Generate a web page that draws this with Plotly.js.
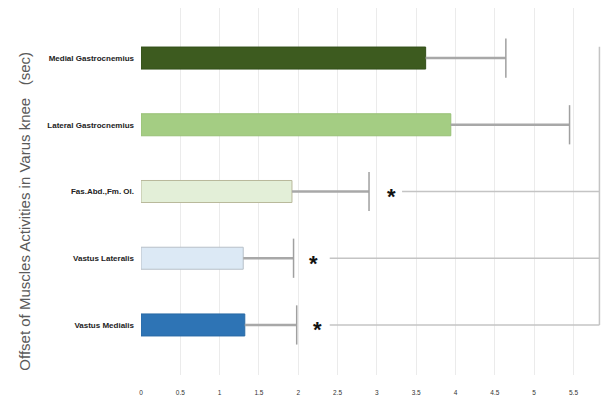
<!DOCTYPE html>
<html>
<head>
<meta charset="utf-8">
<script src="https://cdn.plot.ly/plotly-3.0.1.min.js"></script>
<style>html,body{margin:0;padding:0;background:#fff;}#chart{width:611px;height:401px;}</style>
</head>
<body>
<div id="chart"></div>
<script>
// Data (top to bottom)
const muscles = ['Medial Gastrocnemius', 'Lateral Gastrocnemius', 'Fas.Abd.,Fm. Ol.', 'Vastus Lateralis', 'Vastus Medialis'];
const offsetMean = [3.62, 3.94, 1.92, 1.30, 1.32];
const offsetSD = [1.02, 1.51, 0.98, 0.64, 0.66];
const significant = [false, false, true, true, true];
const starX = [null, null, 3.19, 2.19, 2.24];
const sigLineStart = [null, null, 3.32, 2.40, 2.40];
const bracketX = 5.83;
const xTickVals = [0, 0.5, 1, 1.5, 2, 2.5, 3, 3.5, 4, 4.5, 5, 5.5];
const xTickText = ['0', '0.5', '1', '1.5', '2', '2.5', '3', '3.5', '4', '4.5', '5', '5.5'];
const barColors = ['#3d5b1f', '#a4cd83', '#e3efd8', '#dce9f5', '#2e74b5'];
const barLines = ['#34501a', '#98c076', '#b9b99b', '#b8c0c8', '#2a6aa5'];

const errX = [], errY = [];
offsetMean.forEach((v, i) => { errX.push(v, v + offsetSD[i], null); errY.push(muscles[i], muscles[i], null); });
const capX = offsetMean.map((v, i) => v + offsetSD[i]);

const sigX = [], sigY = [];
significant.forEach((s, i) => { if (s) { sigX.push(sigLineStart[i], bracketX, null); sigY.push(muscles[i], muscles[i], null); } });

const traces = [
  {
    type: 'bar', orientation: 'h', y: muscles, x: offsetMean,
    marker: { color: barColors, line: { color: barLines, width: 1 } },
    hoverinfo: 'x+y'
  },
  {
    type: 'scatter', mode: 'lines', x: errX, y: errY,
    line: { color: '#a8a8a8', width: 2.5 }, hoverinfo: 'skip'
  },
  {
    type: 'scatter', mode: 'markers', x: capX, y: muscles,
    marker: { symbol: 'line-ns-open', size: 28, color: '#a0a0a0', line: { color: '#a0a0a0', width: 1.5 } }, hoverinfo: 'skip'
  },
  {
    type: 'scatter', mode: 'lines', x: sigX, y: sigY,
    line: { color: '#c4c4c4', width: 1.5 }, hoverinfo: 'skip'
  }
];

const annotations = [];
significant.forEach((s, i) => {
  if (s) annotations.push({ x: starX[i], y: muscles[i], xref: 'x', yref: 'y', text: '<b>*</b>', showarrow: false,
    font: { family: 'Liberation Sans, Arial', size: 22, color: '#111' }, yshift: -5 });
});
annotations.push({
  xref: 'paper', yref: 'paper', x: -0.275, y: 0.445, text: 'Offset of Muscles Activities in Varus knee&nbsp;&nbsp;&nbsp;(sec)',
  textangle: -90, showarrow: false, font: { family: 'Liberation Sans, Arial', size: 15, color: '#5a5a5a' }
});

const layout = {
  width: 611, height: 401,
  margin: { l: 141, r: 10, t: 8, b: 26 },
  paper_bgcolor: '#fff', plot_bgcolor: '#fff',
  showlegend: false,
  bargap: 0.67,
  xaxis: {
    range: [0, 5.85], tickvals: xTickVals, ticktext: xTickText,
    showgrid: true, gridcolor: '#ebebeb', gridwidth: 1, zeroline: false, showline: false,
    ticks: '', ticklabelstandoff: 12,
    tickfont: { family: 'Liberation Sans, Arial', size: 6.5, color: '#333' }
  },
  yaxis: {
    type: 'category', range: [4.75, -0.75],
    showgrid: false, zeroline: false, showline: false, ticks: '', ticklabelstandoff: 6,
    tickfont: { family: 'Liberation Sans, Arial', size: 8, color: '#222', weight: 'bold' }
  },
  shapes: [{
    type: 'line', xref: 'x', yref: 'y', x0: bracketX, x1: bracketX, y0: -0.17, y1: muscles.length - 1,
    line: { color: '#c4c4c4', width: 1.5 }
  }],
  annotations: annotations
};

Plotly.newPlot('chart', traces, layout, { displayModeBar: false, staticPlot: true });
</script>
</body>
</html>
